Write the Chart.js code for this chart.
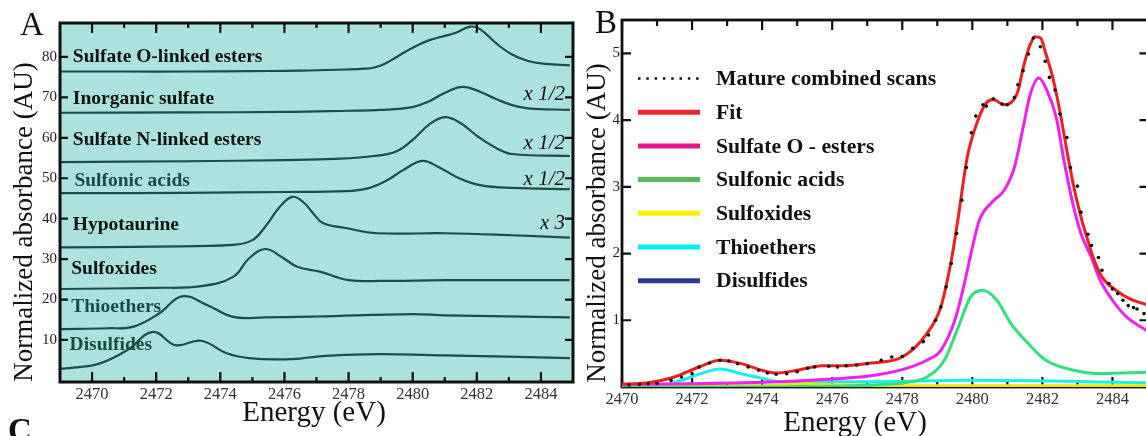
<!DOCTYPE html>
<html><head><meta charset="utf-8">
<script src="https://cdn.jsdelivr.net/npm/chart.js@4/dist/chart.umd.min.js"></script>
<style>
html,body{margin:0;padding:0;background:#fff;overflow:hidden;width:1146px;height:436px;position:relative;}
#ca{position:absolute;left:0;top:0;}
#cb{position:absolute;left:580px;top:0;}
</style></head><body>
<canvas id="ca" width="580" height="436" style="width:580px;height:436px"></canvas>
<canvas id="cb" width="600" height="436" style="width:600px;height:436px"></canvas>
<script>
// ---------- Panel A: reference spectra (offset, AU) ----------
const energyTicksA = [2470,2472,2474,2476,2478,2480,2482,2484];
const energyMinorA = [2471,2473,2475,2477,2479,2481,2483];
const absTicksA = [10,20,30,40,50,60,70,80];
const curveNamesA = ['Sulfate O-linked esters','Inorganic sulfate','Sulfate N-linked esters','Sulfonic acids','Hypotaurine','Sulfoxides','Thioethers','Disulfides'];
const scaleNotesA = ['x 1/2','x 1/2','x 1/2','x 3'];

const sulfOE = [2469,2471,2473,2475,2476.5,2477.9,2478.5,2478.8,2479.1,2479.5,2480,2480.5,2480.9,2481.35,2481.8,2482.1,2482.6,2483.1,2483.6,2484.15,2484.9];
const sulfOA = [76.4,76.4,76.4,76.5,76.6,76.9,77.1,77.4,78.2,80.0,82.3,84.1,85.0,86.0,87.5,86.9,83.4,80.6,79.0,78.3,77.9];
const inorgE = [2469,2473,2476,2478,2479,2480,2480.5,2481,2481.55,2482.1,2482.6,2483.1,2483.6,2484.9];
const inorgA = [66.2,66.3,66.4,66.7,66.9,67.6,69.0,71.1,72.6,71.4,69.6,68.1,67.3,66.9];
const nEstE = [2469,2473,2476,2477.6,2478.8,2479.5,2480.0,2480.5,2481.0,2481.5,2482.05,2482.6,2483.1,2484.9];
const nEstA = [54.0,54.2,54.5,54.8,55.5,56.7,59.5,63.2,65.1,63.6,60.2,57.5,56.0,55.5];
const sulfonE = [2469,2473,2476,2477.9,2478.6,2479.2,2479.7,2480.3,2480.8,2481.45,2482.1,2483.1,2484.9];
const sulfonA = [46.3,46.4,46.6,46.8,47.5,49.5,52.0,54.3,52.8,50.0,48.3,47.6,47.3];
const hypoE = [2469,2472,2474.4,2475.0,2475.4,2475.85,2476.25,2476.6,2476.9,2477.2,2477.9,2478.9,2481,2483.1,2484.9];
const hypoA = [32.9,33.1,33.5,34.7,38.0,42.9,45.4,44.0,41.3,38.9,37.7,36.4,36.4,35.9,35.3];
const sulfoxE = [2469,2472,2473.4,2474.4,2474.9,2475.4,2475.9,2476.4,2477.1,2478.0,2479,2481,2484.9];
const sulfoxA = [22.6,22.9,23.3,25.6,30.2,32.5,30.6,28.1,26.9,24.8,24.6,24.8,24.8];
const thioE = [2469,2470.5,2471.3,2472.1,2472.8,2473.6,2474.4,2475.4,2477,2480,2481,2484.9];
const thioA = [12.7,12.9,13.3,16.6,20.8,18.6,15.7,15.6,15.8,16.4,16.1,15.6];
const disulfE = [2469,2469.5,2470.25,2471.1,2471.9,2472.6,2473.4,2474.2,2474.9,2476.0,2476.5,2477.0,2477.6,2479,2481,2484.9];
const disulfA = [2.9,3.2,4.2,7.5,12.0,8.7,9.8,6.7,5.5,5.2,5.4,5.9,6.2,6.5,6.2,5.5];

// ---------- Panel B: fit of mature sample ----------
const energyTicksB = [2470,2472,2474,2476,2478,2480,2482,2484];
const energyMinorB = [2471,2473,2475,2477,2479,2481,2483];
const absTicksB = [1,2,3,4,5];
const seriesNamesB = ['Mature combined scans','Fit','Sulfate O - esters','Sulfonic acids','Sulfoxides','Thioethers','Disulfides'];

const scanE = [2470.2,2470.5,2470.75,2471.0,2471.4,2471.7,2472.0,2472.2,2472.5,2472.8,2473.05,2473.3,2473.6,2473.9,2474.15,2474.4,2474.7,2475.0,2475.3,2475.5,2475.9,2476.15,2476.4,2476.7,2477.0,2477.4,2477.7,2478.0,2478.3,2478.6,2478.75,2478.95,2479.1,2479.25,2479.4,2479.55,2479.7,2479.83,2479.97,2480.1,2480.3,2480.4,2480.6,2480.85,2481.0,2481.2,2481.3,2481.45,2481.6,2481.74,2481.94,2482.08,2482.2,2482.36,2482.5,2482.7,2482.8,2483.0,2483.1,2483.3,2483.4,2483.6,2483.7,2483.9,2484.0,2484.15,2484.3,2484.45,2484.6,2484.7,2484.9];
const scanA = [0.03,0.04,0.05,0.055,0.10,0.15,0.20,0.30,0.36,0.40,0.39,0.35,0.30,0.25,0.21,0.19,0.20,0.23,0.28,0.30,0.31,0.30,0.32,0.33,0.35,0.40,0.45,0.46,0.58,0.68,0.78,1.00,1.20,1.50,1.85,2.30,2.80,3.29,3.81,4.06,4.23,4.21,4.32,4.24,4.23,4.34,4.53,4.74,4.99,5.23,5.10,4.88,4.64,4.45,4.09,3.74,3.29,3.01,2.62,2.29,2.12,1.94,1.75,1.55,1.47,1.40,1.30,1.22,1.19,1.17,1.10];
const fitE = [2470,2470.7,2471.5,2472.2,2472.8,2473.4,2474.0,2474.4,2475.0,2475.7,2476.4,2477.1,2478.0,2478.7,2479.1,2479.4,2479.6,2479.85,2480.1,2480.4,2480.6,2480.9,2481.1,2481.3,2481.45,2481.65,2481.8,2481.95,2482.1,2482.3,2482.5,2482.7,2482.9,2483.1,2483.3,2483.45,2483.7,2484.1,2484.5,2485];
const fitA = [0.04,0.06,0.15,0.30,0.40,0.35,0.25,0.21,0.25,0.32,0.32,0.36,0.45,0.80,1.20,1.90,2.55,3.43,3.91,4.26,4.31,4.23,4.26,4.43,4.78,5.13,5.25,5.23,4.99,4.63,4.13,3.54,2.99,2.55,2.19,1.94,1.65,1.45,1.32,1.23];
const oEstE = [2470,2472,2474,2475,2476,2477,2478,2478.7,2479.1,2479.5,2479.75,2480.0,2480.2,2480.6,2480.9,2481.2,2481.45,2481.65,2481.9,2482.1,2482.4,2482.6,2482.85,2483.1,2483.4,2483.65,2484.0,2484.4,2485];
const oEstA = [0.04,0.05,0.07,0.09,0.12,0.16,0.26,0.40,0.55,1.00,1.50,2.09,2.50,2.79,2.94,3.29,3.89,4.38,4.63,4.48,4.03,3.44,2.79,2.30,1.94,1.60,1.30,1.05,0.84];
const sulfonBE = [2470,2474,2476,2477,2478,2478.7,2479.2,2479.6,2479.95,2480.3,2480.7,2481.1,2481.6,2482.1,2482.9,2483.65,2485];
const sulfonBA = [0.0,0.0,0.01,0.03,0.06,0.15,0.40,0.90,1.35,1.45,1.30,0.95,0.65,0.40,0.25,0.20,0.22];
const sulfoxBE = [2470,2474,2474.6,2475.2,2476,2477,2478,2485];
const sulfoxBA = [0.01,0.015,0.035,0.05,0.035,0.025,0.02,0.02];
const thioBE = [2470,2471,2471.7,2472.25,2472.8,2473.4,2474.0,2474.5,2475.5,2476.8,2480,2485];
const thioBA = [0.0,0.01,0.10,0.20,0.27,0.20,0.13,0.08,0.08,0.08,0.10,0.065];
const disulfBE = [2470,2471.5,2472,2472.5,2473.5,2485];
const disulfBA = [0.01,0.02,0.03,0.02,0.01,0.0];

// ---------- styling ----------
const SERIF = '"Liberation Serif", "Times New Roman", serif';
Chart.defaults.font.family = SERIF;
const tealBg = '#abe2dd', tealLine = '#1d4d48', tealText = '#1b4a45';
const curveTextColorsA = ['#111','#111','#111',tealText,'#111','#111',tealText,tealText];
const colorsB = ['#111','#ee1f1f','#f21ef2','#2fe07c','#f2e600','#16f0f0','#27388c'];
const legendColorsB = ['#111','#e8262b','#e5178c','#5cb85f','#ffee00','#00eeee','#2b3990'];

const pts = (E, A) => E.map((x, i) => ({x, y: A[i]}));

function tickBox(chart, o) {
  const {ctx, chartArea: a, scales: {x, y}} = chart;
  ctx.save();
  ctx.strokeStyle = '#111';
  ctx.lineWidth = o.tickW;
  ctx.beginPath();
  o.xMajor.forEach(v => { const p = x.getPixelForValue(v);
    ctx.moveTo(p, a.bottom); ctx.lineTo(p, a.bottom - o.bMaj);
    ctx.moveTo(p, a.top); ctx.lineTo(p, a.top + o.tMaj); });
  o.xMinor.forEach(v => { const p = x.getPixelForValue(v);
    ctx.moveTo(p, a.bottom); ctx.lineTo(p, a.bottom - o.bMin);
    ctx.moveTo(p, a.top); ctx.lineTo(p, a.top + o.tMin); });
  o.yMajor.forEach(v => { const p = y.getPixelForValue(v);
    ctx.moveTo(a.left, p); ctx.lineTo(a.left + o.lMaj, p);
    ctx.moveTo(a.right, p); ctx.lineTo(a.right - o.rMaj, p); });
  ctx.stroke();
  ctx.lineWidth = o.boxW;
  ctx.strokeRect(a.left, a.top, a.right - a.left, a.bottom - a.top);
  ctx.restore();
}

function rotTitle(ctx, text, x, y, font) {
  ctx.save(); ctx.translate(x, y); ctx.rotate(-Math.PI / 2);
  ctx.font = font; ctx.fillStyle = '#111'; ctx.textAlign = 'center'; ctx.textBaseline = 'alphabetic';
  ctx.fillText(text, 0, 0); ctx.restore();
}

// ---------- Chart A ----------
const aSeries = [[sulfOE,sulfOA],[inorgE,inorgA],[nEstE,nEstA],[sulfonE,sulfonA],[hypoE,hypoA],[sulfoxE,sulfoxA],[thioE,thioA],[disulfE,disulfA]];
const labelYA = [80, 69.6, 59.5, 49.3, 38.4, 27.5, 18.1, 8.7];
const labelXA = [2469.4, 2469.4, 2469.4, 2469.45, 2469.4, 2469.35, 2469.35, 2469.3];
const noteYA = [70.6, 58.7, 49.6, 38.9];

const decorA = {
  id: 'decorA',
  beforeDatasetsDraw(chart) {
    const {ctx, chartArea: a} = chart;
    ctx.save(); ctx.fillStyle = tealBg; ctx.fillRect(a.left, a.top, a.right - a.left, a.bottom - a.top); ctx.restore();
  },
  afterDatasetsDraw(chart) {
    const {ctx, chartArea: a, scales: {x, y}} = chart;
    tickBox(chart, {xMajor: energyTicksA, xMinor: energyMinorA, yMajor: absTicksA,
      bMaj: 10, bMin: 5, tMaj: 10, tMin: 5, lMaj: 8, rMaj: 8, tickW: 2.2, boxW: 3});
    ctx.save();
    ctx.textBaseline = 'middle';
    ctx.font = 'bold 19.5px ' + SERIF;
    curveNamesA.forEach((n, i) => {
      ctx.fillStyle = curveTextColorsA[i];
      ctx.fillText(n, x.getPixelForValue(labelXA[i]), y.getPixelForValue(labelYA[i]));
    });
    ctx.font = 'italic 21px ' + SERIF;
    ctx.fillStyle = '#111'; ctx.textAlign = 'right';
    scaleNotesA.forEach((n, i) => ctx.fillText(n, a.right - 8, y.getPixelForValue(noteYA[i])));
    ctx.restore();
    ctx.save();
    ctx.fillStyle = '#111';
    ctx.font = '33px ' + SERIF; ctx.textAlign = 'left'; ctx.textBaseline = 'alphabetic';
    ctx.fillText('A', 20, 35);
    ctx.font = 'bold 33px ' + SERIF;
    ctx.fillText('C', 8, 441);
    ctx.font = '29px ' + SERIF; ctx.textAlign = 'center';
    ctx.fillText('Energy (eV)', 314, 421);
    ctx.restore();
    rotTitle(ctx, 'Normalized absorbance (AU)', 32, 222, '27px ' + SERIF);
  }
};

new Chart(document.getElementById('ca'), {
  type: 'line',
  data: { datasets: aSeries.map((s, i) => ({
    label: curveNamesA[i], data: pts(s[0], s[1]),
    borderColor: tealLine, borderWidth: 2.2, pointRadius: 0,
    tension: 0.4, fill: false })) },
  options: {
    responsive: false, animation: false, devicePixelRatio: 1,
    layout: { padding: { top: 23, right: 7, left: 0, bottom: 0 } },
    plugins: { legend: { display: false }, tooltip: { enabled: false } },
    scales: {
      x: { type: 'linear', min: 2469, max: 2485,
        afterBuildTicks: s => { s.ticks = energyTicksA.map(v => ({value: v})); },
        afterFit: s => { s.height = 54; },
        grid: { display: false, drawTicks: false }, border: { display: false },
        ticks: { padding: 3, color: '#333', font: { size: 16.5 }, callback: v => String(v), maxRotation: 0, autoSkip: false } },
      y: { type: 'linear', min: -0.4, max: 88.4,
        afterBuildTicks: s => { s.ticks = absTicksA.map(v => ({value: v})); },
        afterFit: s => { s.width = 60; },
        grid: { display: false, drawTicks: false }, border: { display: false },
        ticks: { padding: 3, color: '#222', font: { size: 15 }, callback: v => String(v) } }
    }
  },
  plugins: [decorA]
});

// ---------- Chart B ----------
const bSeries = [[scanE,scanA],[fitE,fitA],[oEstE,oEstA],[sulfonBE,sulfonBA],[sulfoxBE,sulfoxBA],[thioBE,thioBA],[disulfBE,disulfBA]];
const drawOrderB = [0, 1, 2, 3, 4, 5, 6];

const decorB = {
  id: 'decorB',
  beforeDatasetsDraw(chart) {
    tickBox(chart, {xMajor: energyTicksB, xMinor: energyMinorB, yMajor: absTicksB,
      bMaj: 10, bMin: 5, tMaj: 10, tMin: 6, lMaj: 9, rMaj: 8, tickW: 2.2, boxW: 2.8});
  },
  afterDatasetsDraw(chart) {
    const {ctx, chartArea: a} = chart;
    ctx.save();
    ctx.font = 'bold 21.7px ' + SERIF; ctx.textBaseline = 'middle';
    seriesNamesB.forEach((n, i) => {
      const yy = 78.5 + i * 33.7;
      ctx.strokeStyle = legendColorsB[i];
      if (i === 0) { ctx.lineWidth = 2.5; ctx.setLineDash([2.5, 5.8]); }
      else { ctx.lineWidth = 5; ctx.setLineDash([]); }
      ctx.beginPath(); ctx.moveTo(a.left + 16, yy); ctx.lineTo(a.left + 78, yy); ctx.stroke();
      ctx.fillStyle = '#111';
      ctx.fillText(n, a.left + 94, yy + 1);
    });
    ctx.setLineDash([]);
    ctx.font = '33px ' + SERIF; ctx.textBaseline = 'alphabetic'; ctx.textAlign = 'left';
    ctx.fillText('B', 15, 33);
    ctx.font = '29px ' + SERIF; ctx.textAlign = 'center';
    ctx.fillText('Energy (eV)', 275, 431);
    ctx.restore();
    rotTitle(ctx, 'Normalized absorbance (AU)', 25, 223, '27px ' + SERIF);
  }
};

new Chart(document.getElementById('cb'), {
  type: 'line',
  data: { datasets: bSeries.map((s, i) => ({
    label: seriesNamesB[i], data: pts(s[0], s[1]),
    borderColor: colorsB[i], backgroundColor: colorsB[i],
    borderWidth: i === 0 ? 0 : 3,
    showLine: i !== 0,
    pointRadius: i === 0 ? 1.8 : 0,
    pointStyle: 'circle',
    order: drawOrderB[i],
    cubicInterpolationMode: 'monotone', fill: false })) },
  options: {
    responsive: false, animation: false, devicePixelRatio: 1,
    layout: { padding: { top: 20, right: 32.5, left: 0, bottom: 0 } },
    plugins: { legend: { display: false }, tooltip: { enabled: false } },
    scales: {
      x: { type: 'linear', min: 2470, max: 2485,
        afterBuildTicks: s => { s.ticks = energyTicksB.map(v => ({value: v})); },
        afterFit: s => { s.height = 49; },
        grid: { display: false, drawTicks: false }, border: { display: false },
        ticks: { padding: 3, color: '#333', font: { size: 16.5 }, callback: v => String(v), maxRotation: 0, autoSkip: false } },
      y: { type: 'linear', min: 0, max: 5.5,
        afterBuildTicks: s => { s.ticks = absTicksB.map(v => ({value: v})); },
        afterFit: s => { s.width = 42; },
        grid: { display: false, drawTicks: false }, border: { display: false },
        ticks: { padding: 2, color: '#222', font: { size: 15 }, callback: v => String(v) } }
    }
  },
  plugins: [decorB]
});
</script></body></html>
